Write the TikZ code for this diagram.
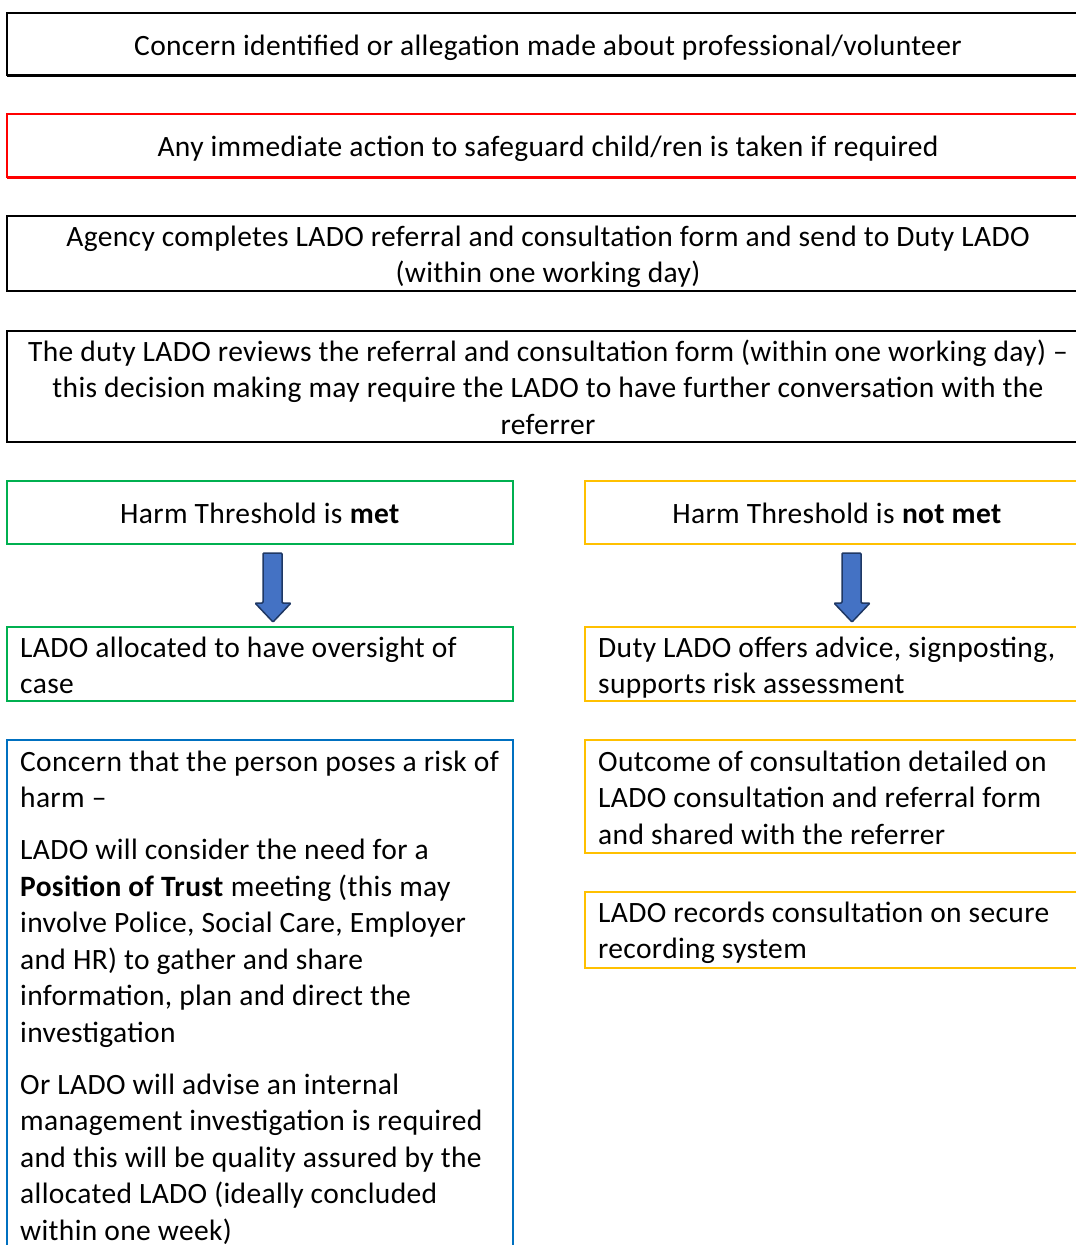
\documentclass[tikz,border=0pt]{standalone}
\usepackage{fontspec}
\setmainfont{Carlito}[LetterSpace=1.2]
\definecolor{cgreen}{HTML}{00B050}
\definecolor{cyellow}{HTML}{FFC000}
\definecolor{cblue}{HTML}{0070C0}
\definecolor{cred}{HTML}{FF0000}
\definecolor{afill}{HTML}{4472C4}
\definecolor{aline}{HTML}{1F3864}
\newcommand\fl{\rule{0pt}{25pt}}
\begin{document}
\begin{tikzpicture}[x=1pt,y=-1pt,
  boxline/.style={line width=1.5pt},
  txt/.style={inner sep=0pt, font=\fontsize{29.5}{36.6}\selectfont, align=left, anchor=north west},
  ctxt/.style={inner sep=0pt, font=\fontsize{29.5}{36.6}\selectfont, align=center, anchor=north},
  blockarrow/.style={fill=afill, draw=aline, line width=1.5pt, rounded corners=1pt, line join=round}]
\useasboundingbox (0,0) rectangle (1076,1245);
\clip (0,0) rectangle (1076,1245);
% boxes
\draw[boxline,black] (7,13) rectangle (1090,75);
\draw[line width=1pt,black] (7,76) -- (1090,76);
\draw[boxline,cred] (7,114) rectangle (1090,177);
\draw[line width=1pt,cred] (7,178) -- (1090,178);
\draw[boxline,black] (7,216) rectangle (1090,291);
\draw[boxline,black] (7,331) rectangle (1090,442);
\draw[boxline,cgreen] (7,481) rectangle (513,544);
\draw[boxline,cyellow] (585,481) rectangle (1090,544);
\draw[boxline,cgreen] (7,627) rectangle (513,701);
\draw[boxline,cyellow] (585,627) rectangle (1090,701);
\draw[boxline,cblue] (7,740) rectangle (513,1260);
\draw[boxline,cyellow] (585,740) rectangle (1090,853);
\draw[boxline,cyellow] (585,892) rectangle (1090,968);
% texts
\node[ctxt] (t1) at (548,30) {\fl Concern identified or allegation made about professional/volunteer};
\node[ctxt] (t2) at (548,131) {\fl Any immediate action to safeguard child/ren is taken if required};
\node[ctxt] (t3) at (548,221) {\fl Agency completes LADO referral and consultation form and send to Duty LADO\\(within one working day)};
\node[ctxt] (t4) at (548,336) {\fl The duty LADO reviews the referral and consultation form (within one working day) --\\this decision making may require the LADO to have further conversation with the\\referrer};
\node[ctxt] (hm) at (260,498) {\fl Harm Threshold is \textbf{met}};
\node[ctxt] (hn) at (837,498) {\fl Harm Threshold is \textbf{not met}};
\node[txt] (la) at (20,632) {\fl LADO allocated to have oversight of\\case};
\node[txt] (da) at (598,632) {\fl Duty LADO offers advice, signposting,\\supports risk assessment};
\node[txt] (cr) at (20,746) {\fl Concern that the person poses a risk of\\harm --\\[15pt]
LADO will consider the need for a\\\textbf{Position of Trust} meeting (this may\\involve Police, Social Care, Employer\\and HR) to gather and share\\information, plan and direct the\\investigation\\[15pt]
Or LADO will advise an internal\\management investigation is required\\and this will be quality assured by the\\allocated LADO (ideally concluded\\within one week)};
\node[txt] (oc) at (598,746) {\fl Outcome of consultation detailed on\\LADO consultation and referral form\\and shared with the referrer};
\node[txt] (rs) at (598,897) {\fl LADO records consultation on secure\\recording system};
% block arrows
\draw[blockarrow] (263,553) -- (282,553) -- (282,603) -- (291,603) -- (273,622) -- (255,603) -- (263,603) -- cycle;
\draw[blockarrow] (842,553) -- (861,553) -- (861,603) -- (870,603) -- (852,622) -- (834,603) -- (842,603) -- cycle;
\end{tikzpicture}
\end{document}
